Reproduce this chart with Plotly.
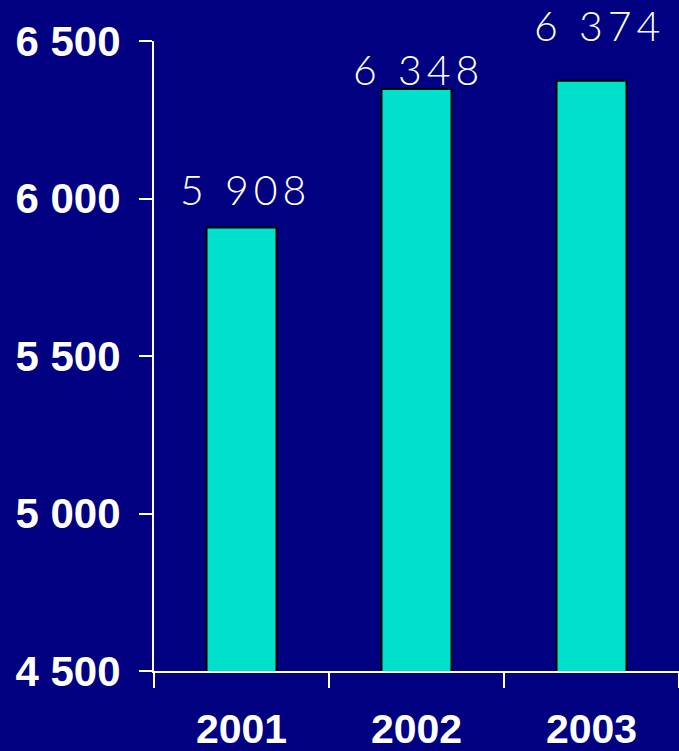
import plotly.graph_objects as go

# Annual totals
years = ["2001", "2002", "2003"]
values = [5908, 6348, 6374]

# Per-label pixel nudges for the value captions (x, y)
label_dx = [4, 2, 8]
label_dy = [11, -7, 29]

BG = "#000080"
BAR = "#00E0CA"

fig = go.Figure(
    go.Bar(
        x=years,
        y=values,
        marker=dict(color=BAR, line=dict(color="#000000", width=2)),
        width=0.4,
        hoverinfo="skip",
    )
)

for i, (v, dx, dy) in enumerate(zip(values, label_dx, label_dy)):
    caption = f"{v:,}".replace(",", " ")
    fig.add_annotation(
        x=i,
        y=v,
        text=f'<span style="letter-spacing:5px">{caption}</span>',
        showarrow=False,
        xanchor="center",
        yanchor="bottom",
        xshift=dx,
        yshift=dy,
        font=dict(family="Lato", size=41, color="white", weight=300),
    )

fig.update_layout(
    width=679,
    height=751,
    margin=dict(l=154, r=0, t=41, b=80),
    paper_bgcolor=BG,
    plot_bgcolor=BG,
    separators=". ",
    showlegend=False,
    bargap=0.6,
)

fig.update_yaxes(
    range=[4500, 6500],
    tick0=4500,
    dtick=500,
    tickformat=",d",
    showgrid=False,
    zeroline=False,
    showline=True,
    linecolor="white",
    linewidth=2,
    ticks="outside",
    ticklen=13,
    tickwidth=2,
    tickcolor="white",
    ticklabelstandoff=10,
    automargin=False,
    tickfont=dict(family="Arial, Liberation Sans", size=42, color="white", weight="bold"),
)

fig.update_xaxes(
    type="category",
    range=[-0.5, 2.5],
    showgrid=False,
    showline=True,
    linecolor="white",
    linewidth=2,
    ticks="outside",
    tickson="boundaries",
    ticklen=15,
    tickwidth=2,
    tickcolor="white",
    tickangle=0,
    ticklabelstandoff=21,
    automargin=False,
    tickfont=dict(family="Arial, Liberation Sans", size=41, color="white", weight="bold"),
)

fig.write_html("out.html")
